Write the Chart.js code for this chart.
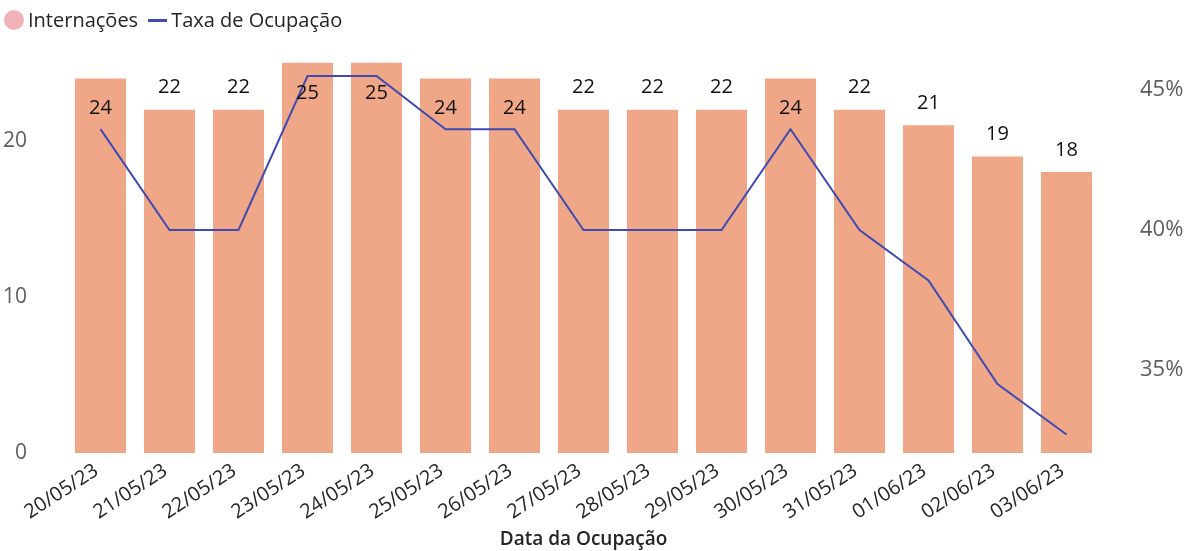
<!DOCTYPE html>
<html>
<head>
<meta charset="utf-8">
<script src="https://cdn.jsdelivr.net/npm/chart.js@4/dist/chart.umd.min.js"></script>
<style>
  body { margin: 0; background: #fff; font-family: 'Open Sans', 'Noto Sans', sans-serif; }
  #wrap { position: relative; width: 1198px; height: 551px; }
  #legenda { position: absolute; left: 4px; top: 7px; display: flex; align-items: center;
    font-size: 20px; color: #252423; line-height: 26px; white-space: nowrap; }
  .bola { width: 20px; height: 20px; border-radius: 50%; margin-right: 4px; }
  .traco { width: 19px; height: 3px; margin-left: 10px; margin-right: 4px; }
</style>
</head>
<body>
<div id="wrap">
  <canvas id="grafico" width="1198" height="551"></canvas>
  <div id="legenda"></div>
</div>
<script>
// dados
const datas = ['20/05/23', '21/05/23', '22/05/23', '23/05/23', '24/05/23', '25/05/23', '26/05/23',
  '27/05/23', '28/05/23', '29/05/23', '30/05/23', '31/05/23', '01/06/23', '02/06/23', '03/06/23'];
const internacoes = [24, 22, 22, 25, 25, 24, 24, 22, 22, 22, 24, 22, 21, 19, 18];
const taxaOcupacao = [43.6, 40.0, 40.0, 45.5, 45.5, 43.6, 43.6, 40.0, 40.0, 40.0, 43.6, 40.0, 38.2, 34.5, 32.7]; // em %

const corBarra = '#F0A788';
const corLegendaBarra = '#F1B3B8';
const corLinha = '#3F4BB3';
const fonte = "'Open Sans', 'Noto Sans', sans-serif";

// rótulos de dados das barras (acima, ou dentro se não couber)
const rotulos = {
  id: 'rotulos',
  afterDatasetsDraw(chart) {
    const ctx = chart.ctx;
    const meta = chart.getDatasetMeta(0);
    const topo = chart.chartArea.top;
    ctx.save();
    ctx.font = '20px ' + fonte;
    ctx.fillStyle = '#111';
    ctx.textAlign = 'center';
    ctx.textBaseline = 'middle';
    meta.data.forEach((barra, i) => {
      let y = barra.y - 22;
      if (y - 10 < topo) y = barra.y + 30;
      ctx.fillText(internacoes[i], barra.x, y);
    });
    ctx.restore();
  }
};

const ctx = document.getElementById('grafico').getContext('2d');
const grafico = new Chart(ctx, {
  data: {
    labels: datas,
    datasets: [
      {
        type: 'bar',
        label: 'Internações',
        data: internacoes,
        backgroundColor: corBarra,
        yAxisID: 'y',
        order: 2,
        categoryPercentage: 1,
        barPercentage: 0.74
      },
      {
        type: 'line',
        label: 'Taxa de Ocupação',
        data: taxaOcupacao,
        borderColor: corLinha,
        borderWidth: 2,
        pointRadius: 0,
        tension: 0,
        yAxisID: 'y2',
        order: 1
      }
    ]
  },
  options: {
    responsive: false,
    animation: false,
    layout: { padding: { top: 60 } },
    plugins: {
      tooltip: { enabled: false },
      legend: { display: false }
    },
    scales: {
      x: {
        grid: { display: false, drawTicks: false },
        border: { display: false },
        ticks: {
          color: '#252423',
          font: { family: fonte, size: 20 },
          minRotation: 33,
          maxRotation: 33,
          padding: 6,
          labelOffset: -4
        },
        title: {
          display: true,
          text: 'Data da Ocupação',
          color: '#252423',
          font: { family: fonte, size: 19, weight: '600' },
          padding: { top: 0, bottom: 0 }
        },
        afterFit(s) { s.height = 98; }
      },
      y: {
        position: 'left',
        min: 0,
        max: 25.18,
        grid: { display: false, drawTicks: false },
        border: { display: false },
        ticks: {
          stepSize: 10,
          includeBounds: false,
          color: '#605E5C',
          font: { family: fonte, size: 21 },
          padding: 39
        },
        afterFit(s) { s.width = 66; }
      },
      y2: {
        position: 'right',
        min: 32.04,
        max: 46.07,
        grid: { display: false, drawTicks: false },
        border: { display: false },
        ticks: {
          stepSize: 5,
          includeBounds: false,
          color: '#605E5C',
          font: { family: fonte, size: 22 },
          padding: 39,
          callback: v => Math.round(v) + '%'
        },
        afterFit(s) { s.width = 97; }
      }
    }
  },
  plugins: [rotulos]
});

// legenda em HTML, a partir dos datasets
const legenda = document.getElementById('legenda');
grafico.data.datasets.forEach((ds, i) => {
  const marca = document.createElement('span');
  marca.className = ds.type === 'line' ? 'traco' : 'bola';
  marca.style.background = ds.type === 'line' ? corLinha : corLegendaBarra;
  const texto = document.createElement('span');
  texto.textContent = ds.label;
  legenda.appendChild(marca);
  legenda.appendChild(texto);
});
</script>
</body>
</html>
